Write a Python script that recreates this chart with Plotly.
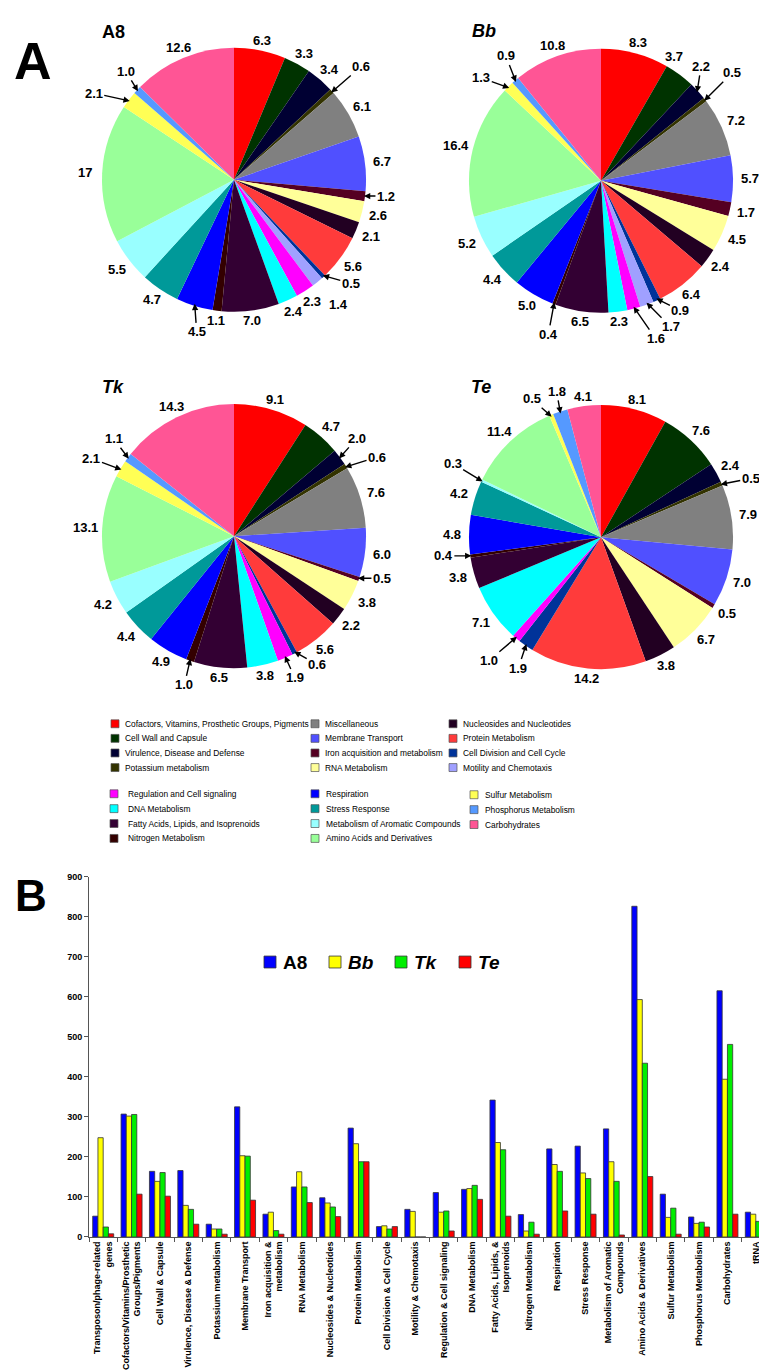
import math
import plotly.graph_objects as go

W, H = 767, 1370

# ---------------- data ----------------
categories = ["Cofactors, Vitamins, Prosthetic Groups, Pigments", "Cell Wall and Capsule",
              "Virulence, Disease and Defense", "Potassium metabolism", "Miscellaneous",
              "Membrane Transport", "Iron acquisition and metabolism", "RNA Metabolism",
              "Nucleosides and Nucleotides", "Protein Metabolism", "Cell Division and Cell Cycle",
              "Motility and Chemotaxis", "Regulation and Cell signaling", "DNA Metabolism",
              "Fatty Acids, Lipids, and Isoprenoids", "Nitrogen Metabolism", "Respiration",
              "Stress Response", "Metabolism of Aromatic Compounds", "Amino Acids and Derivatives",
              "Sulfur Metabolism", "Phosphorus Metabolism", "Carbohydrates"]

a8_pct = [6.3, 3.3, 3.4, 0.6, 6.1, 6.7, 1.2, 2.6, 2.1, 5.6, 0.5, 1.4, 2.3, 2.4, 7.0, 1.1, 4.5, 4.7, 5.5, 17, 2.1, 1.0, 12.6]
bb_pct = [8.3, 3.7, 2.2, 0.5, 7.2, 5.7, 1.7, 4.5, 2.4, 6.4, 0.9, 1.7, 1.6, 2.3, 6.5, 0.4, 5.0, 4.4, 5.2, 16.4, 1.3, 0.9, 10.8]
tk_pct = [9.1, 4.7, 2.0, 0.6, 7.6, 6.0, 0.5, 3.8, 2.2, 5.6, 0.6, 0, 1.9, 3.8, 6.5, 1.0, 4.9, 4.4, 4.2, 13.1, 2.1, 1.1, 14.3]
te_pct = [8.1, 7.6, 2.4, 0.5, 7.9, 7.0, 0.5, 6.7, 3.8, 14.2, 1.9, 0, 1.0, 7.1, 3.8, 0.4, 4.8, 4.2, 0.3, 11.4, 0.5, 1.8, 4.1]
pie_names = ["A8", "<i>Bb</i>", "<i>Tk</i>", "<i>Te</i>"]

bar_categories = ["Transposon/phage-related<br>genes", "Cofactors/Vitamins/Prosthetic<br>Groups/Pigments",
                  "Cell Wall & Capsule", "Virulence, Disease & Defense", "Potassium metabolism",
                  "Membrane Transport", "Iron acquisition &<br>metabolism", "RNA Metabolism",
                  "Nucleosides & Nucleotides", "Protein Metabolism", "Cell Division & Cell Cycle",
                  "Motility & Chemotaxis", "Regulation & Cell signaling", "DNA Metabolism",
                  "Fatty Acids, Lipids, &<br>Isoprenoids", "Nitrogen Metabolism", "Respiration",
                  "Stress Response", "Metabolism of Aromatic<br>Compounds", "Amino Acids & Derivatives",
                  "Sulfur Metabolism", "Phosphorus Metabolism", "Carbohydrates", "tRNA"]
a8_counts = [52, 307, 164, 166, 32, 325, 57, 125, 98, 272, 26, 69, 111, 119, 342, 56, 220, 227, 270, 826, 107, 50, 615, 62]
bb_counts = [248, 302, 139, 79, 20, 203, 62, 163, 85, 233, 28, 64, 62, 121, 236, 15, 181, 160, 188, 593, 49, 34, 394, 57]
tk_counts = [25, 306, 161, 69, 20, 202, 16, 125, 75, 188, 20, 0, 65, 129, 218, 37, 164, 146, 139, 434, 72, 37, 481, 39]
te_counts = [8, 107, 102, 32, 7, 92, 7, 86, 51, 188, 26, 0, 15, 94, 52, 7, 65, 57, 5, 151, 7, 25, 57, 39]
bar_names = ["A8", "<i>Bb</i>", "<i>Tk</i>", "<i>Te</i>"]

# ---------------- styles ----------------
colors = ["#ff0000", "#003300", "#000033", "#333300", "#808080", "#5050ff", "#550022", "#ffff99",
          "#220022", "#ff3b3b", "#003399", "#a0a0ff", "#ff00ff", "#00ffff", "#330033", "#330000",
          "#0000ff", "#009999", "#99ffff", "#99ff99", "#ffff55", "#5599ff", "#ff5595"]
bar_colors = ["#0000ff", "#ffff00", "#00ee00", "#ff0000"]
FONT = "Liberation Sans, Arial, sans-serif"

R = 133
pie_centers = [(226, 168), (593, 169), (226, 527), (593, 528)]
title_pos = [(105, 19), (476, 18), (105, 377), (473, 377)]
arrow_offsets = [
    {3: (30, -26), 6: (22, 0), 10: (28, 8), 11: (22, 24), 16: (2, 28), 20: (-36, -8), 21: (-12, -20)},
    {2: (4, -26), 3: (28, -28), 10: (24, 12), 11: (24, 24), 12: (22, 32), 15: (-6, 32), 20: (-28, -10), 21: (-10, -26)},
    {2: (18, -20), 3: (32, -10), 6: (24, 0), 10: (23, 13), 12: (10, 22), 15: (-6, 26), 20: (-30, -11), 21: (-15, -20)},
    {3: (30, -6), 10: (-8, 24), 12: (-28, 24), 15: (-28, 0), 18: (-30, -18), 20: (-20, -18), 21: (-4, -22)},
]
label_nudge = [{}, {1: (-14, -8)}, {}, {}]

fig = go.Figure()
annotations = []
shapes = []

def px(x):
    return x / W

def py(y):
    return 1 - y / H

pies = [a8_pct, bb_pct, tk_pct, te_pct]
for k, vals in enumerate(pies):
    cx, cy = pie_centers[k]
    texts = [f"{v:.1f}" for v in vals]
    if k == 0:
        texts[19] = "17"
    fig.add_trace(go.Pie(
        values=vals, labels=categories, marker=dict(colors=colors, line=dict(width=0)),
        sort=False, direction="clockwise", rotation=0, textinfo="none", hoverinfo="label+value",
        showlegend=False,
        domain=dict(x=[px(cx - R), px(cx + R)], y=[py(cy + R), py(cy - R)]),
    ))
    total = sum(vals)
    cum = 0.0
    for i, v in enumerate(vals):
        if v <= 0:
            continue
        mid = (cum + v / 2) / total * 2 * math.pi
        cum += v
        s, c = math.sin(mid), math.cos(mid)
        t = "<b>" + texts[i] + "</b>"
        if i in arrow_offsets[k]:
            ax, ay = arrow_offsets[k][i]
            tx, ty = cx + (R - 2) * s, cy - (R - 2) * c
            annotations.append(dict(x=px(tx), y=py(ty), xref="paper", yref="paper", text=t,
                                    showarrow=True, ax=ax, ay=ay, arrowhead=2, arrowsize=0.9,
                                    arrowwidth=1.4, arrowcolor="black", standoff=0,
                                    font=dict(family=FONT, size=13, color="black")))
        else:
            Rl = R + 9 + 7 * abs(s)
            dx, dy = label_nudge[k].get(i, (0, 0))
            annotations.append(dict(x=px(cx + Rl * s + dx), y=py(cy - Rl * c + dy), xref="paper", yref="paper",
                                    text=t, showarrow=False, xanchor="center", yanchor="middle",
                                    font=dict(family=FONT, size=13, color="black")))
    tx, ty = title_pos[k]
    annotations.append(dict(x=px(tx), y=py(ty), xref="paper", yref="paper", text="<b>" + pie_names[k] + "</b>",
                            showarrow=False, xanchor="center", yanchor="middle",
                            font=dict(family=FONT, size=18, color="black")))

# panel letters
annotations.append(dict(x=px(25), y=py(48), xref="paper", yref="paper", text="<b>A</b>", showarrow=False,
                        xanchor="center", yanchor="middle", font=dict(family=FONT, size=52, color="black")))
annotations.append(dict(x=px(23), y=py(889), xref="paper", yref="paper", text="<b>B</b>", showarrow=False,
                        xanchor="center", yanchor="middle", font=dict(family=FONT, size=44, color="black")))

# category legend (manual)
for i, name in enumerate(categories):
    if i < 12:
        col, row = i // 4, i % 4
        sx = [103, 303, 441][col]
        tx = sx + 12
        yc = 716 + 14.7 * row
    else:
        j = i - 12
        col, row = j // 4, j % 4
        sx = [102, 303, 462][col]
        tx = sx + [16, 13, 13][col]
        yc = (786.5 if col < 2 else 787.5) + 15 * row
    shapes.append(dict(type="rect", xref="paper", yref="paper", x0=px(sx), x1=px(sx + 8),
                       y0=py(yc + 4), y1=py(yc - 4), fillcolor=colors[i], line=dict(color="#555", width=0.7)))
    annotations.append(dict(x=px(tx), y=py(yc), xref="paper", yref="paper", text=name, showarrow=False,
                            xanchor="left", yanchor="middle", font=dict(family=FONT, size=8.4, color="black")))

# ---------------- bar chart ----------------
bar_series = [a8_counts, bb_counts, tk_counts, te_counts]
for name, vals, col in zip(bar_names, bar_series, bar_colors):
    fig.add_trace(go.Bar(x=bar_categories, y=vals, name=name, marker=dict(color=col, line=dict(color="#333", width=0.8)),
                         showlegend=False, xaxis="x", yaxis="y"))

# bar legend (manual)
leg_sq = [256, 321, 387, 451]
for name, col, sx in zip(bar_names, bar_colors, leg_sq):
    shapes.append(dict(type="rect", xref="paper", yref="paper", x0=px(sx), x1=px(sx + 12),
                       y0=py(962), y1=py(950), fillcolor=col, line=dict(color="#333", width=0.8)))
    annotations.append(dict(x=px(sx + 17), y=py(956), xref="paper", yref="paper", text="<b>" + name + "</b>",
                            showarrow=False, xanchor="left", yanchor="middle",
                            font=dict(family=FONT, size=19, color="black")))

fig.update_layout(
    width=W, height=H, autosize=False,
    margin=dict(l=0, r=0, t=0, b=0),
    paper_bgcolor="white", plot_bgcolor="white",
    barmode="group", bargap=0.26, bargroupgap=0,
    xaxis=dict(domain=[px(81), px(762)], anchor="y", type="category", tickson="boundaries",
               ticks="outside", ticklen=4, tickcolor="#555", tickangle=-90, showline=True,
               linecolor="#555", linewidth=1, showgrid=False,
               tickfont=dict(family=FONT, size=9, color="black", weight="bold")),
    yaxis=dict(domain=[py(1233), py(870)], anchor="x", range=[0, 900], dtick=100, ticks="outside",
               ticklen=4, tickcolor="#555", showline=True, linecolor="#555", linewidth=1, showgrid=False,
               zeroline=False, tickfont=dict(family=FONT, size=9, color="black", weight="bold")),
    annotations=annotations, shapes=shapes,
    font=dict(family=FONT),
)

fig.write_html("out.html")
